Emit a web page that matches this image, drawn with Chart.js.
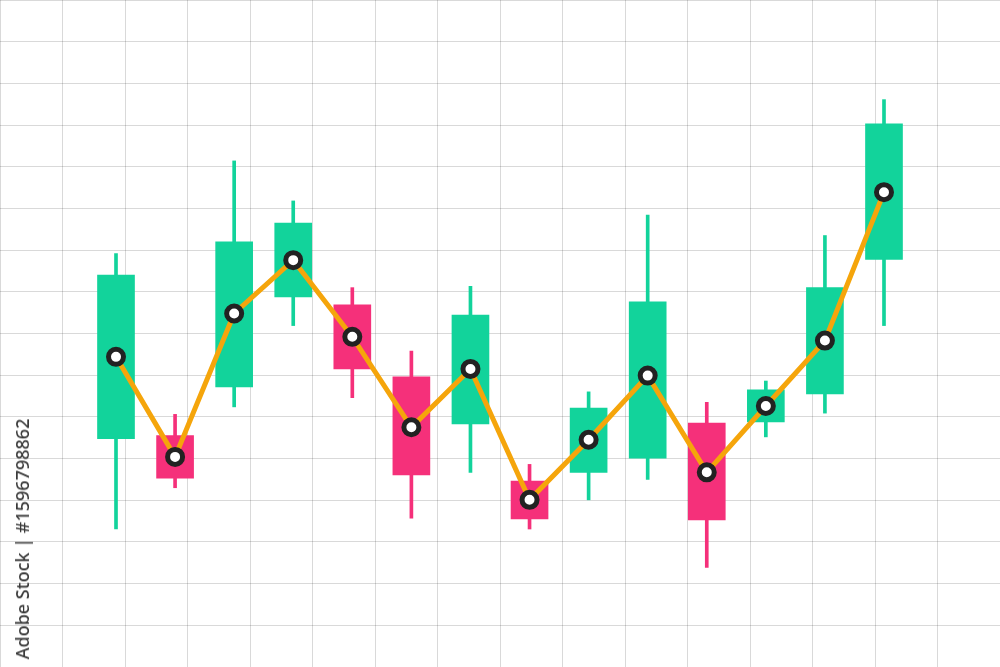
<!DOCTYPE html>
<html>
<head>
<meta charset="utf-8">
<script src="https://cdn.jsdelivr.net/npm/chart.js@4/dist/chart.umd.min.js"></script>
<style>
  html, body { margin: 0; padding: 0; background: #fff; }
  #wrap { position: relative; width: 1000px; height: 667px; overflow: hidden; }
  #stamp {
    position: absolute; left: 22px; top: 539px;
    transform: translate(-50%, -50%) rotate(-90deg);
    white-space: nowrap;
    font-family: "Noto Sans", "Open Sans", sans-serif;
    font-weight: 500; font-size: 18px; color: #3a3a3a;
  }
</style>
</head>
<body>
<div id="wrap">
  <canvas id="candleChart"></canvas>
  <div id="stamp">Adobe Stock | #1596798862</div>
</div>
<script>
// one entry per candle
var periods = [1, 2, 3, 4, 5, 6, 7, 8, 9, 10, 11, 12, 13, 14];
var openVals  = [54.8, 55.5, 67.2, 88.8, 86.9, 69.6, 58.3, 44.6, 46.7, 50.1, 58.5, 58.8, 65.5, 97.8];
var closeVals = [94.0, 45.3, 102.0, 106.5, 71.5, 46.1, 84.4, 35.5, 62.1, 87.6, 35.3, 66.5, 91.0, 130.3];
var highVals  = [99.2, 60.6, 121.4, 111.8, 91.0, 75.8, 91.3, 48.6, 66.0, 108.4, 63.5, 68.6, 103.5, 136.1];
var lowVals   = [33.1, 43.0, 62.4, 81.9, 64.6, 35.7, 46.7, 33.1, 40.1, 45.0, 23.9, 55.2, 60.9, 81.9];
var lineVals  = [74.4, 50.4, 84.8, 97.6, 79.2, 57.5, 71.5, 40.1, 54.5, 69.9, 46.7, 62.6, 78.3, 113.9];

var chartColors = {
    up: '#12d39b',
    down: '#f5307a',
    line: '#f5a50b',
    dot: '#222222',
    grid: 'rgba(0,0,0,0.15)'
};

var candleColors = periods.map(function (p, i) {
    return closeVals[i] >= openVals[i] ? chartColors.up : chartColors.down;
});

var bodies = periods.map(function (p, i) { return { x: p, y: [openVals[i], closeVals[i]] }; });
var wicks = periods.map(function (p, i) { return { x: p, y: [lowVals[i], highVals[i]] }; });
var points = periods.map(function (p, i) { return { x: p, y: lineVals[i] }; });

var ctx = document.getElementById('candleChart').getContext('2d');
var myChart = new Chart(ctx, {
    type: 'bar',
    data: {
        datasets: [
            {
                type: 'line',
                data: points,
                borderColor: chartColors.line,
                borderWidth: 5,
                tension: 0,
                pointRadius: 7.5,
                pointBorderWidth: 5,
                pointBackgroundColor: '#ffffff',
                pointBorderColor: chartColors.dot,
                order: 0
            },
            {
                data: bodies,
                backgroundColor: candleColors,
                barThickness: 37,
                grouped: false,
                borderWidth: 0,
                borderSkipped: false,
                order: 1
            },
            {
                data: wicks,
                backgroundColor: candleColors,
                barThickness: 3,
                grouped: false,
                borderWidth: 0,
                borderSkipped: false,
                order: 2
            }
        ]
    },
    options: {
        responsive: true,
        maintainAspectRatio: false,
        animation: false,
        layout: { padding: 0, autoPadding: false },
        plugins: { legend: { display: false }, tooltip: { enabled: false } },
        scales: {
            x: {
                type: 'linear',
                display: false,
                offset: false,
                min: -0.9636,
                max: 15.9636
            },
            xg: {
                type: 'linear',
                position: 'bottom',
                offset: false,
                min: 0,
                max: 16,
                ticks: { display: false, stepSize: 1 },
                grid: { color: chartColors.grid, drawTicks: false, offset: false },
                border: { display: false }
            },
            y: {
                min: 0,
                max: 160,
                ticks: { display: false, stepSize: 10 },
                grid: { color: chartColors.grid, drawTicks: false },
                border: { display: false }
            }
        }
    }
});
</script>
</body>
</html>
